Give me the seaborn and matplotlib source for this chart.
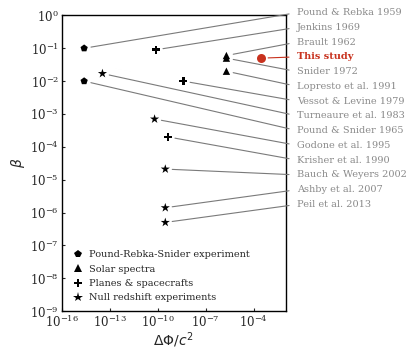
import matplotlib as mpl
import matplotlib.pyplot as plt
import pandas as pd
import seaborn as sns

mpl.use("Agg")

# references listed top-to-bottom in the right margin
labels = [
    "Pound & Rebka 1959",
    "Jenkins 1969",
    "Brault 1962",
    "This study",
    "Snider 1972",
    "Lopresto et al. 1991",
    "Vessot & Levine 1979",
    "Turneaure et al. 1983",
    "Pound & Snider 1965",
    "Godone et al. 1995",
    "Krisher et al. 1990",
    "Bauch & Weyers 2002",
    "Ashby et al. 2007",
    "Peil et al. 2013",
]
dphi = [2.5e-15, 8e-11, 2e-6, 3e-4, 2e-6, 2e-6, 4e-9, 3.5e-14, 2.5e-15,
        6.4e-11, 4.5e-10, 3e-10, 3e-10, 3e-10]
beta = [0.1, 0.09, 0.06, 0.05, 0.05, 0.02, 0.01, 0.017, 0.01,
        7e-4, 2e-4, 2.1e-5, 1.4e-6, 5e-7]
kinds = [
    "Pound-Rebka-Snider experiment",
    "Planes & spacecrafts",
    "Solar spectra",
    "This study",
    "Solar spectra",
    "Solar spectra",
    "Planes & spacecrafts",
    "Null redshift experiments",
    "Pound-Rebka-Snider experiment",
    "Null redshift experiments",
    "Planes & spacecrafts",
    "Null redshift experiments",
    "Null redshift experiments",
    "Null redshift experiments",
]
kind_order = [
    "Pound-Rebka-Snider experiment",
    "Solar spectra",
    "Planes & spacecrafts",
    "Null redshift experiments",
]
kind_markers = {
    "Pound-Rebka-Snider experiment": "p",
    "Solar spectra": "^",
    "Planes & spacecrafts": "P",
    "Null redshift experiments": "*",
}
kind_sizes = {
    "Pound-Rebka-Snider experiment": 30,
    "Solar spectra": 28,
    "Planes & spacecrafts": 30,
    "Null redshift experiments": 48,
}
red = "#c8321e"

sns.set_style("ticks", {"xtick.direction": "in", "ytick.direction": "in"})
plt.rcParams["font.family"] = "DejaVu Serif"

df = pd.DataFrame({"label": labels, "dphi": dphi, "beta": beta, "kind": kinds})
others = df[df["kind"] != "This study"]
study = df[df["kind"] == "This study"]

fig = plt.figure(figsize=(4.12, 3.58), dpi=100)
ax = fig.add_axes([0.150, 0.131, 0.543, 0.826])

sns.scatterplot(
    data=others, x="dphi", y="beta", style="kind", style_order=kind_order,
    markers=kind_markers, size="kind", size_order=kind_order, sizes=kind_sizes,
    color="k", linewidth=0, ax=ax,
)
sns.scatterplot(
    data=study, x="dphi", y="beta", color=red, s=42, linewidth=0,
    legend=False, ax=ax,
)

ax.set_xscale("log")
ax.set_yscale("log")
ax.set_xlim(1e-16, 1e-2)
ax.set_ylim(1e-9, 1)
ax.xaxis.set_major_locator(mpl.ticker.FixedLocator([1e-16, 1e-13, 1e-10, 1e-7, 1e-4]))
ax.yaxis.set_major_locator(mpl.ticker.LogLocator(base=10, numticks=12))
ax.xaxis.set_minor_locator(mpl.ticker.NullLocator())
ax.yaxis.set_minor_locator(mpl.ticker.NullLocator())
ax.tick_params(axis="both", which="major", direction="in", length=2.5,
               width=0.8, labelsize=8.5, pad=2)
for sp in ax.spines.values():
    sp.set_linewidth(1.0)
    sp.set_color("k")

ax.set_xlabel(r"$\Delta\Phi/c^2$", fontsize=10, labelpad=0.5)
ax.set_ylabel(r"$\beta$", fontsize=10, labelpad=2)

# labels on the right with connector lines
for i, row in df.iterrows():
    is_study = row["kind"] == "This study"
    ax.annotate(
        row["label"],
        xy=(row["dphi"], row["beta"]), xycoords="data",
        xytext=(1.052, 1.0095 - 0.0499 * i), textcoords="axes fraction",
        ha="left", va="center", fontsize=7,
        color=red if is_study else "#8a8a8a",
        fontweight="bold" if is_study else "normal",
        annotation_clip=False,
        arrowprops=dict(arrowstyle="-", color=red if is_study else "#7a7a7a",
                        lw=0.8, relpos=(0, 0.5), shrinkA=3.5, shrinkB=5),
    )

sns.move_legend(
    ax, "lower left", title=None, frameon=False, fontsize=7,
    handletextpad=0.3, handlelength=1.6, labelspacing=0.55, borderaxespad=0.5,
)

fig.savefig("out.png", dpi=100)
